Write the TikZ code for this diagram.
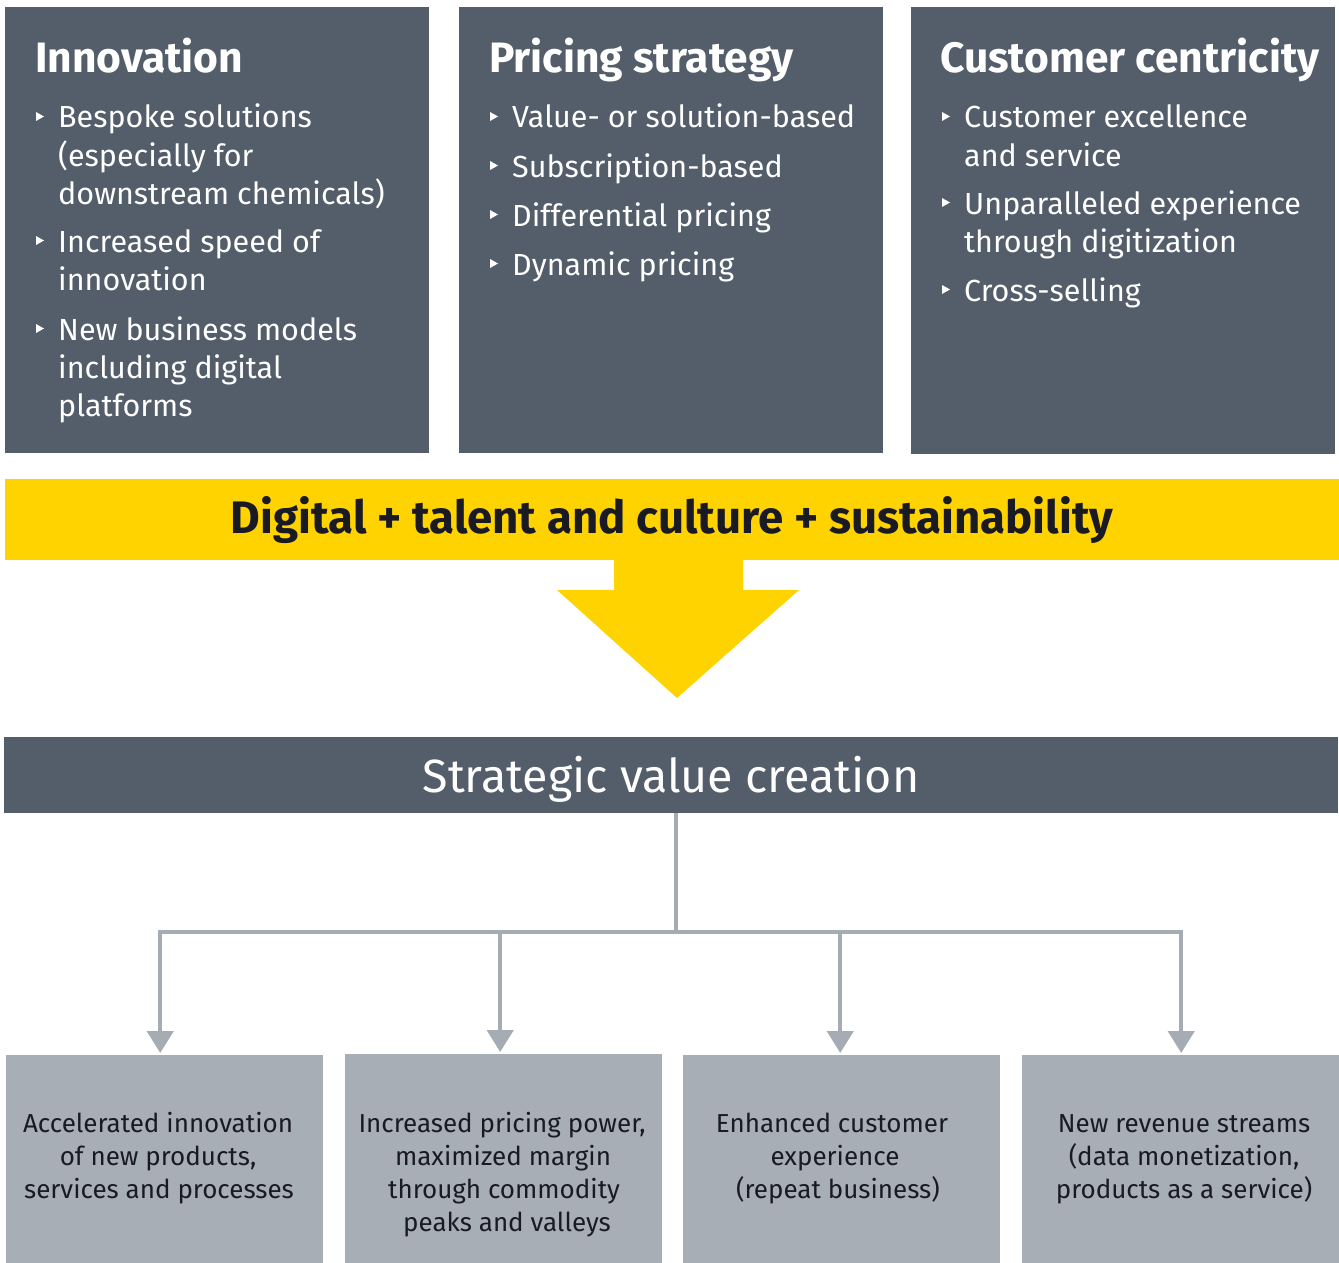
\documentclass[tikz,border=0pt]{standalone}
\usepackage{fontspec}
\setmainfont{Fira Sans}
\usetikzlibrary{arrows.meta}
\definecolor{eydark}{HTML}{545E6A}
\definecolor{eyyellow}{HTML}{FFD300}
\definecolor{eygrey}{HTML}{A8AEB5}
\definecolor{eyline}{HTML}{A5ACB3}
\definecolor{eytext}{HTML}{1A1A24}
\tikzset{
  panel/.style={fill=eydark, draw=none, inner sep=0pt, anchor=north west},
  outbox/.style={fill=eygrey, draw=none, inner sep=0pt, anchor=north west},
  ptitle/.style={text=white, inner sep=0pt, anchor=base west, font=\fontsize{42.5}{50}\selectfont\bfseries},
  pbody/.style={text=white, inner sep=0pt, anchor=base west, font=\fontsize{30.5}{38}\selectfont},
  otext/.style={text=eytext, inner sep=0pt, anchor=base, font=\fontsize{26}{33}\selectfont},
  conn/.style={draw=eyline, line width=4.5pt},
  connarrow/.style={conn, -{Triangle[width=26pt,length=22pt]}, shorten >=2pt},
}
\newcommand\bitem[4]{%
  \fill[white] (#2-22,#3-16) -- (#2-22,#3-7) -- (#2-14,#3-11.5) -- cycle;
  \node[pbody] (#1) at (#2,#3) {#4};}
\newcommand\bcont[4]{\node[pbody] (#1) at (#2,#3) {#4};}
\newcommand\oline[4]{\node[otext] (#1) at (#2,#3) {#4};}
\begin{document}
\begin{tikzpicture}[x=1pt,y=-1pt]
\useasboundingbox (0,0) rectangle (1339,1263);
% top panels
\node[panel, minimum width=424pt, minimum height=446pt] (p1) at (5,7) {};
\node[panel, minimum width=424pt, minimum height=446pt] (p2) at (459,7) {};
\node[panel, minimum width=424pt, minimum height=447pt] (p3) at (911,7) {};
\node[ptitle] (t1) at (35,73) {Innovation};
\node[ptitle] (t2) at (489,73) {Pricing strategy};
\node[ptitle] (t3) at (940,73) {Customer centricity};
% panel 1
\bitem{a1}{58}{128}{Bespoke solutions}
\bcont{a2}{58}{166}{(especially for}
\bcont{a3}{58}{204}{downstream chemicals)}
\bitem{a4}{58}{252}{Increased speed of}
\bcont{a5}{58}{290}{innovation}
\bitem{a6}{58}{340}{New business models}
\bcont{a7}{58}{378}{including digital}
\bcont{a8}{58}{416}{platforms}
% panel 2
\bitem{c1}{512}{128}{Value- or solution-based}
\bitem{c2}{512}{177}{Subscription-based}
\bitem{c3}{512}{226}{Differential pricing}
\bitem{c4}{512}{275}{Dynamic pricing}
% panel 3
\bitem{d1}{964}{128}{Customer excellence}
\bcont{d2}{964}{166}{and service}
\bitem{d3}{964}{214}{Unparalleled experience}
\bcont{d4}{964}{252}{through digitization}
\bitem{d5}{964}{301}{Cross-selling}
% yellow band and arrow
\fill[eyyellow] (614,555) -- (614,590) -- (557,590) -- (677,698) -- (799,590) -- (743,590) -- (743,555) -- cycle;
\node[fill=eyyellow, inner sep=0pt, minimum width=1334pt, minimum height=81pt,
      text height=30pt, text depth=3pt, text=eytext,
      font=\fontsize{45.6}{54}\selectfont\bfseries] (band) at (672,519.5)
      {Digital + talent and culture + sustainability};
% strategic value creation
\node[fill=eydark, inner sep=0pt, minimum width=1334pt, minimum height=76pt,
      text height=36pt, text depth=2pt, text=white,
      font=\fontsize{46.6}{56}\selectfont] (svc) at (671,775)
      {Strategic value creation};
% bottom boxes
\node[outbox, minimum width=317pt, minimum height=208pt] (b1) at (6,1055) {};
\node[outbox, minimum width=317pt, minimum height=209pt] (b2) at (345,1054) {};
\node[outbox, minimum width=317pt, minimum height=208pt] (b3) at (683,1055) {};
\node[outbox, minimum width=317pt, minimum height=208pt] (b4) at (1022,1055) {};
% connectors
\coordinate (hub) at (676,932);
\draw[conn] (svc.south -| hub) -- (hub);
\draw[connarrow] (hub) -| ([xshift=-4.5pt]b1.north);
\draw[connarrow] (hub) -| ([xshift=-3.5pt]b2.north);
\draw[connarrow] (hub) -| ([xshift=-1.5pt]b3.north);
\draw[connarrow] (hub) -| ([xshift=0.5pt]b4.north);
% bottom texts
\oline{e1}{158}{1132}{Accelerated innovation}
\oline{e2}{158}{1165}{of new products,}
\oline{e3}{159}{1198}{services and processes}
\oline{f1}{502}{1132}{Increased pricing power,}
\oline{f2}{503}{1165}{maximized margin}
\oline{f3}{504}{1198}{through commodity}
\oline{f4}{507}{1231}{peaks and valleys}
\oline{g1}{832}{1132}{Enhanced customer}
\oline{g2}{835}{1165}{experience}
\oline{g3}{838}{1198}{(repeat business)}
\oline{h1}{1184}{1132}{New revenue streams}
\oline{h2}{1184}{1165}{(data monetization,}
\oline{h3}{1184}{1198}{products as a service)}
\end{tikzpicture}
\end{document}
